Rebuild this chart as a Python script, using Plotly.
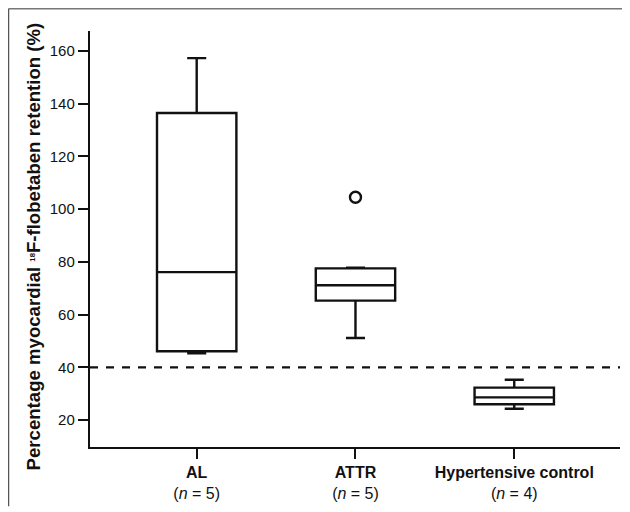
import plotly.graph_objects as go

categories = ["AL", "ATTR", "Hypertensive control"]
n_values = [5, 5, 4]
lower_fence = [45.3, 51.1, 24.3]
q1_values = [46.1, 65.3, 26.0]
median_values = [76.1, 71.1, 28.6]
q3_values = [136.4, 77.5, 32.3]
upper_fence = [157.2, 77.8, 35.3]
outlier_category = ["ATTR"]
outlier_values = [104.5]
threshold = 40
y_ticks = [20, 40, 60, 80, 100, 120, 140, 160]
y_title = "<b>Percentage myocardial <span style='font-size:11px'><sup>18</sup></span>F-flobetaben retention (%)</b>"

labels = [f"<b>{c}</b><br>(<i>n</i> = {n})" for c, n in zip(categories, n_values)]
label_map = dict(zip(categories, labels))

FONT = "Liberation Sans, Arial, sans-serif"
INK = "#111111"

# page body has an 8px margin, so the figure is sized to fill the rest of the window
W, H = 622, 504
ML, MR, MT, MB = 82, 10, 23, 60
PW, PH = W - ML - MR, H - MT - MB

fig = go.Figure()
for i, c in enumerate(categories):
    fig.add_trace(go.Box(
        x=[label_map[c]],
        q1=[q1_values[i]], median=[median_values[i]], q3=[q3_values[i]],
        lowerfence=[lower_fence[i]], upperfence=[upper_fence[i]],
        boxpoints=False,
        width=0.5,
        whiskerwidth=0.24,
        fillcolor="white",
        line=dict(color=INK, width=2.4),
        showlegend=False,
    ))

fig.add_trace(go.Scatter(
    x=[label_map[c] for c in outlier_category], y=outlier_values,
    mode="markers",
    marker=dict(symbol="circle-open", size=11, color=INK, line=dict(width=2.4, color=INK)),
    showlegend=False,
))

fig.add_shape(type="line", xref="paper", yref="y", x0=0, x1=1, y0=threshold, y1=threshold,
              line=dict(color=INK, width=2.2, dash="8px,8px"), layer="below")

# outer frame: top and left edges
fx0 = -(ML - 0.5) / PW
fy1 = 1 + (MT - 0.5) / PH
fig.add_shape(type="line", xref="paper", yref="paper", x0=fx0, x1=1 + MR / PW, y0=fy1, y1=fy1,
              line=dict(color="#777777", width=1.5))
fig.add_shape(type="line", xref="paper", yref="paper", x0=fx0, x1=fx0, y0=fy1, y1=-MB / PH,
              line=dict(color="#555555", width=1.5))

fig.add_annotation(
    text=y_title, textangle=-90,
    xref="paper", yref="paper",
    x=-(ML - 25) / PW, y=1 - (241 - MT) / PH,
    xanchor="center", yanchor="middle", showarrow=False,
    font=dict(size=18.6, family=FONT, color=INK),
)

fig.update_layout(
    width=W, height=H,
    margin=dict(l=ML, r=MR, t=MT, b=MB),
    paper_bgcolor="white", plot_bgcolor="white",
    font=dict(family=FONT, color=INK, size=15),
    xaxis=dict(
        categoryorder="array", categoryarray=labels,
        range=[-0.672, 2.666],
        showline=True, linecolor=INK, linewidth=2.4,
        ticks="outside", ticklen=10, tickwidth=2.4, tickcolor=INK,
        showgrid=False, zeroline=False,
        tickfont=dict(size=16, family=FONT, color=INK),
    ),
    yaxis=dict(
        range=[9.8, 167.5],
        tickvals=y_ticks,
        showline=True, linecolor=INK, linewidth=2.4,
        ticks="outside", ticklen=10, tickwidth=2.4, tickcolor=INK,
        showgrid=False, zeroline=False,
        tickfont=dict(size=15, family=FONT, color=INK),
    ),
)

fig.write_html("out.html")
